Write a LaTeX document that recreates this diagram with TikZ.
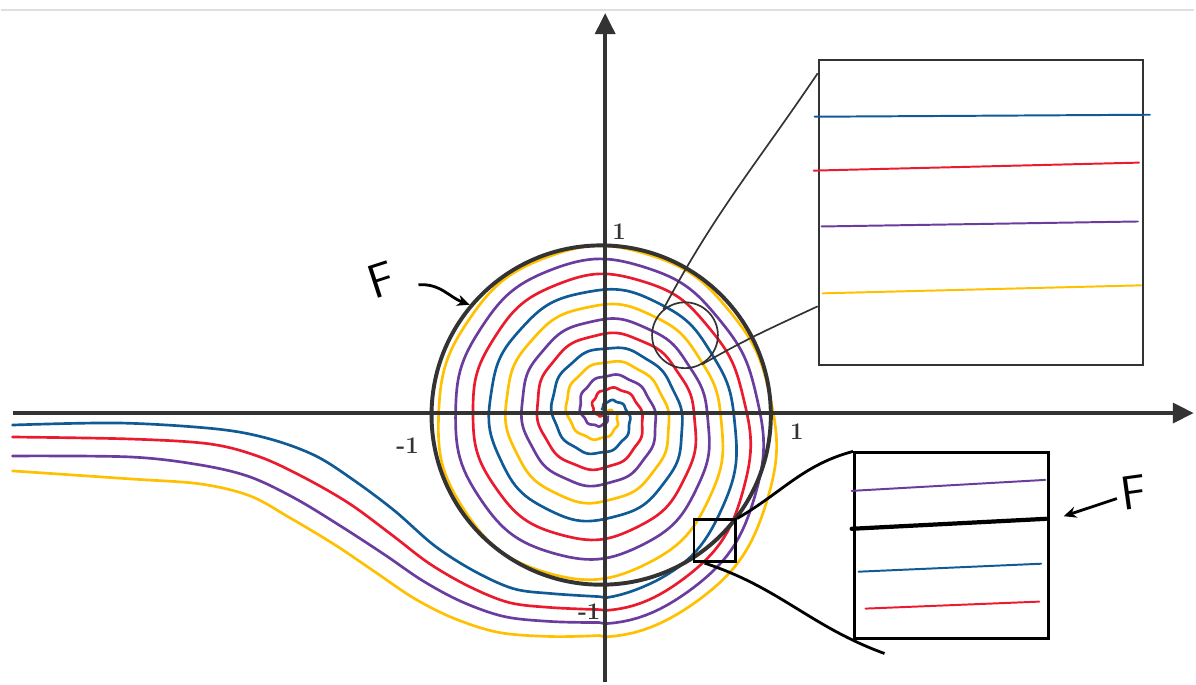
\documentclass[tikz,border=0pt]{standalone}
\usepackage{amsmath,amssymb}
\usetikzlibrary{arrows.meta,positioning,calc}

\definecolor{spblue}{HTML}{105A96}
\definecolor{spred}{HTML}{EA1B2E}
\definecolor{sppurple}{HTML}{6A3C9E}
\definecolor{spyellow}{HTML}{FFC000}
\definecolor{ink}{HTML}{333333}

\begin{document}
\begin{tikzpicture}[
    x=0.025cm, y=-0.025cm,
    declare function={
        natr(\x,\y)=8.435*(\x+\y);
        lam(\x)=0.14-0.09*cos(deg(\x))+0.11*sin(deg(\x))-0.05*cos(deg(2*\x));
        sprad(\x,\y)=natr(\x,\y)+140*lam(\x)*(min(natr(\x,\y),140)/140)^2+0.8*sin(deg(10.3*\x));
    },
    arm/.style={line width=1.9pt,line join=round,line cap=round},
    axis/.style={line width=3.1pt,draw=ink,-{Triangle[length=15pt,width=14pt]}},
    inset/.style={line width=1.4pt,line cap=round},
    zoomline/.style={line width=1.2pt,draw=ink},
    bzoomline/.style={line width=2pt,draw=black},
    farrow/.style={line width=2pt,->,>={Stealth[length=9pt,width=8pt]}},
    tick/.style={font=\bfseries\fontsize{17}{17}\selectfont,text=ink},
    bigf/.style={font=\sffamily\fontsize{34}{34}\selectfont}
]
    \path[fill=white] (0,0) rectangle (1196,684);
    \draw[gray!25,line width=0.8pt] (0,10) -- (1196,10);

    % Spiral arms, each one running out into the band on the left
    \draw[arm,spred] plot[domain=2.430:20.420,samples=500,variable=\t]
        ({606+sprad(\t,-1.956)*cos(deg(\t))},{414+sprad(\t,-1.956)*sin(deg(\t))})
        -- plot[smooth,tension=0.55] coordinates {(600,611) (553,609) (510,604) (470,588) (430,565) (392,536) (350,505) (305,479) (260,458) (210,445) (130,440) (12,438)};
    \draw[arm,sppurple] plot[domain=0.859:20.420,samples=500,variable=\t]
        ({606+sprad(\t,-0.385)*cos(deg(\t))},{414+sprad(\t,-0.385)*sin(deg(\t))})
        -- plot[smooth,tension=0.55] coordinates {(600,624) (553,623) (505,618) (462,603) (423,582) (385,556) (342,528) (296,500) (250,478) (200,466) (130,458) (12,457)};
    \draw[arm,spyellow] plot[domain=-0.712:20.420,samples=500,variable=\t]
        ({606+sprad(\t,1.186)*cos(deg(\t))},{414+sprad(\t,1.186)*sin(deg(\t))})
        -- plot[smooth,tension=0.55] coordinates {(600,637) (553,638) (500,634) (455,620) (415,600) (375,573) (335,546) (290,519) (250,497) (200,485) (130,480) (12,472)};
    \draw[arm,spblue] plot[domain=-2.282:14.137,samples=400,variable=\t]
        ({606+sprad(\t,2.756)*cos(deg(\t))},{414+sprad(\t,2.756)*sin(deg(\t))})
        -- plot[smooth,tension=0.55] coordinates {(600,598) (553,595) (514,590) (474,572) (435,547) (395,512) (355,482) (316,457) (270,440) (217,430) (120,424) (12,426)};

    % Unit circle
    \node[circle,draw=ink,line width=2.8pt,minimum size=8.5cm,inner sep=0] (disc) at (602,416) {};

    % Axes
    \coordinate (x_from) at (12,414);
    \coordinate (x_to) at (1196,414);
    \coordinate (y_from) at (606,684);
    \coordinate (y_to) at (606,13);
    \draw[axis] (x_from) -- (x_to);
    \draw[axis] (y_from) -- (y_to);

    % Tick labels
    \node[tick] (tick_n) at (620,232) {1};
    \node[tick] (tick_e) at (798,433) {1};
    \node[tick] (tick_w) at (408,447) {-1};
    \node[tick] (tick_s) at (590,613) {-1};

    % Zoom inset, upper right
    \node[circle,draw=ink,line width=1.2pt,minimum size=1.65cm,inner sep=0] (lens) at (686,336) {};
    \node[draw=ink,line width=1.4pt,minimum width=8.125cm,minimum height=7.625cm,inner sep=0] (box_top) at (982.5,213) {};
    \draw[inset,spblue] (816,117) -- (1152,115);
    \draw[inset,spred] (815,171) -- (1141,163);
    \draw[inset,sppurple] (823,227) -- (1140,222);
    \draw[inset,spyellow] (824,294) -- (1143,286);
    \draw[zoomline] (lens.130) to[out=62,in=236] ([yshift=-0.35cm]box_top.north west);
    \draw[zoomline] (lens.-60) to[out=30,in=205] ([yshift=-2.35cm]box_top.west);

    % Zoom inset, lower right
    \node[draw=black,line width=2pt,minimum size=1.05cm,inner sep=0] (sq_bot) at (716,542) {};
    \node[draw=black,line width=2.2pt,minimum width=4.85cm,minimum height=4.65cm,inner sep=0] (box_bot) at (953,547) {};
    \draw[inset,sppurple] (853,492) -- (1047,481);
    \draw[line width=3pt,line cap=round] (853,530) -- (1048,520);
    \draw[inset,spblue] (860,573) -- (1043,565);
    \draw[inset,spred] (867,610) -- (1041,603);
    \coordinate (tail_end) at (886,655);
    \draw[bzoomline] (sq_bot.north east) to[out=30,in=195] (box_bot.north west);
    \draw[bzoomline] ([xshift=0.3cm]sq_bot.south west) to[out=-18,in=160] (tail_end);

    % F labels
    \node[bigf,rotate=18] (F_left) at (382,281) {F};
    \draw[farrow] ([xshift=0.5cm,yshift=-0.25cm]F_left.east) to[out=5,in=160] (disc.140);
    \node[bigf,rotate=8] (F_right) at (1136,494) {F};
    \draw[farrow] (F_right) -- ([xshift=0.35cm,yshift=0.74cm]box_bot.east);
\end{tikzpicture}
\end{document}
